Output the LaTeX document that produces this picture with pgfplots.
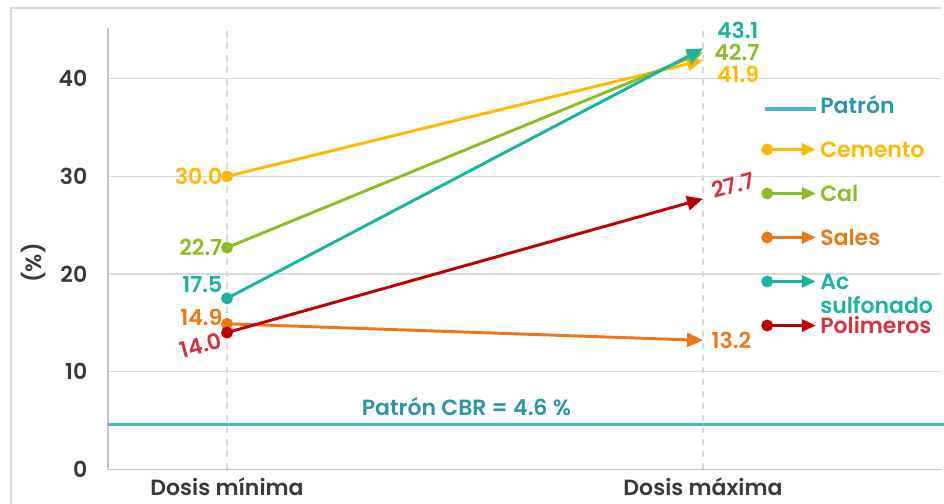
\documentclass[border=0pt]{standalone}
\usepackage{fontspec}
\setmainfont{Poppins}[BoldFont={Poppins SemiBold}]
\usepackage{pgfplots}
\pgfplotsset{compat=1.18}
\usetikzlibrary{arrows.meta}

\definecolor{cemento}{HTML}{FFBA00}
\definecolor{cal}{HTML}{8CBC26}
\definecolor{sales}{HTML}{EF7613}
\definecolor{acsulf}{HTML}{1AB3A0}
\definecolor{polim}{HTML}{C00000}
\definecolor{polimtxt}{HTML}{D6323F}
\definecolor{patron}{HTML}{45B8D3}
\definecolor{patrontxt}{HTML}{2A95AB}
\definecolor{tickgray}{HTML}{3A3A3A}
\definecolor{gridgray}{HTML}{DADADA}
\definecolor{axisgray}{HTML}{C4C4C4}
\definecolor{framegray}{HTML}{D9D9D9}

\newcommand{\lblfont}{\fontsize{16.5}{19}\selectfont\bfseries}

\pgfplotsset{
  serie/.style={color=#1, line width=2.2pt, -{Triangle[length=12pt,width=10.5pt]},
    mark=*, mark indices={1}, mark size=3.3pt, mark options={solid}},
  arrowleg/.style={legend image code/.code={
    \draw[##1, mark=none, -{Triangle[length=10.5pt,width=9pt]}] (0pt,2.5pt) -- (38pt,2.5pt);
    \fill[##1, -] (1.5pt,2.5pt) circle (3.3pt);
  }},
  lineleg/.style={legend image code/.code={\draw[##1] (0pt,0pt) -- (38pt,0pt);}},
}

\begin{document}
\begin{tikzpicture}
\begin{scope}
\clip (0pt,0pt) rectangle (708pt,377.25pt);
\draw[framegray, line width=1.2pt] (8.25pt,-5pt) -- (8.25pt,371.25pt) -- (705.75pt,371.25pt);
\begin{axis}[
  at={(81pt,25.3pt)}, anchor=south west, scale only axis,
  width=624.75pt, height=331pt,
  xmin=-0.25, xmax=1.5, ymin=0, ymax=45.2,
  axis lines*=left,
  axis line style={draw=axisgray, line width=0.9pt},
  xtick={0,1}, xticklabels={Dosis mínima, Dosis máxima},
  ytick={0,10,20,30,40},
  major tick length=0pt,
  xmajorgrids, ymajorgrids,
  major x grid style={gridgray, line width=0.9pt, dash pattern=on 5pt off 4pt},
  major y grid style={gridgray, line width=0.9pt},
  /pgf/number format/assume math mode=true,
  tick label style={font=\lblfont, text=tickgray},
  yticklabel style={xshift=-12pt},
  xticklabel style={yshift=-3pt},
  ylabel={(\%)},
  every axis y label/.style={at={(axis description cs:-0.09,0.4675)}, rotate=90, anchor=center, font=\lblfont, text=tickgray},
  clip=false,
  arrowleg,
  legend cell align=left,
  legend style={draw=none, fill=none, at={(rel axis cs:0.784,0.843)}, anchor=north west,
    inner sep=0pt, row sep=16pt, column sep=1pt,
    nodes={text height=11pt, text depth=4pt, inner sep=1pt}, font=\lblfont},
]
% reference level
\addplot[color=patron, line width=2.6pt, lineleg]
  coordinates {(-0.25,4.6) (1.506,4.6)};
\addlegendentry{\textcolor{patrontxt}{Patrón}}

\addplot[serie=cemento] coordinates {(0,30.0) (1,41.9)};
\addlegendentry{\textcolor{cemento}{Cemento}}
\addplot[serie=cal] coordinates {(0,22.7) (1,42.7)};
\addlegendentry{\textcolor{cal}{Cal}}
\addplot[serie=sales] coordinates {(0,14.9) (1,13.2)};
\addlegendentry{\textcolor{sales}{Sales}}
\addplot[serie=acsulf] coordinates {(0,17.5) (1,43.1)};
\addlegendentry{\textcolor{acsulf}{\begin{tabular}[t]{@{}l@{}}Ac\\[-1pt]sulfonado\end{tabular}}}
\addplot[serie=polim] coordinates {(0,14.0) (1,27.7)};
\addlegendentry{\textcolor{polimtxt}{Polimeros}}

% value labels
\begin{scope}[every node/.style={font=\lblfont}]
\node[anchor=east, text=cemento] at (axis cs:0,30.0) {30.0};
\node[anchor=east, text=cal] at (axis cs:0,22.7) {22.7};
\node[anchor=east, text=acsulf, yshift=10.5pt] at (axis cs:0,17.5) {17.5};
\node[anchor=east, text=sales, yshift=5pt] at (axis cs:0,14.9) {14.9};
\node[anchor=east, text=polimtxt, rotate=15, xshift=-2pt, yshift=-4pt] at (axis cs:0,14.0) {14.0};
\node[anchor=west, text=acsulf, xshift=7pt, yshift=13.5pt] at (axis cs:1,43.1) {43.1};
\node[anchor=west, text=cal, xshift=5pt, yshift=0pt] at (axis cs:1,42.7) {42.7};
\node[anchor=west, text=cemento, xshift=7pt, yshift=-11pt] at (axis cs:1,41.9) {41.9};
\node[anchor=west, text=polimtxt, rotate=15, xshift=5pt, yshift=4pt] at (axis cs:1,27.7) {27.7};
\node[anchor=west, text=sales, xshift=3pt] at (axis cs:1,13.2) {13.2};
\node[text=patrontxt] at (axis cs:0.503,6.4) {Patrón CBR = 4.6 \%};
\end{scope}
\end{axis}
\end{scope}
\pgfresetboundingbox
\useasboundingbox (0pt,0pt) rectangle (708pt,377.25pt);
\end{tikzpicture}
\end{document}
